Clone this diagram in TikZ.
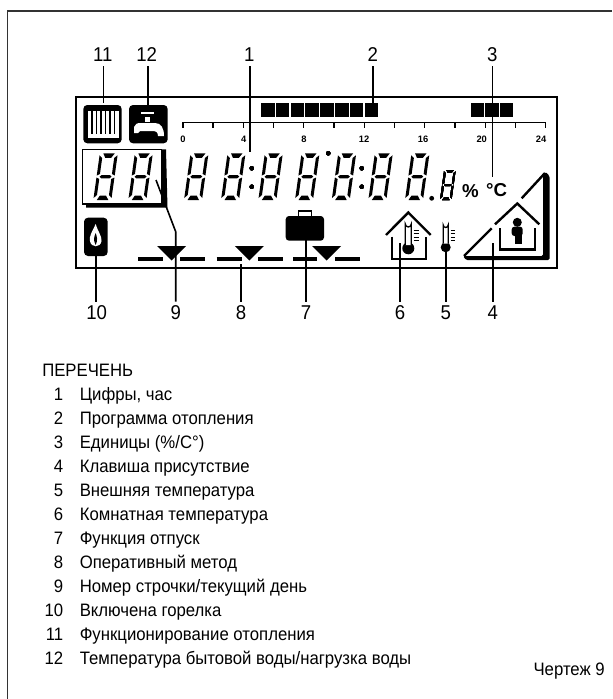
\documentclass[tikz,border=0pt]{standalone}
\usepackage{fontspec}
\setmainfont[FakeStretch=0.93]{Liberation Sans}
\newfontfamily\widefont{Liberation Sans}

\tikzset{
    bignum/.style={inner sep=3pt,font=\fontsize{15}{15}\selectfont},
    listtext/.style={inner sep=0pt,font=\fontsize{13.5}{13.5}\selectfont},
    hournum/.style={inner sep=0pt,font=\widefont\bfseries\fontsize{7}{7}\selectfont},
    unitmark/.style={inner sep=0pt,font=\widefont\bfseries\fontsize{14}{14}\selectfont},
    leader/.style={line width=1.2pt},
    icon/.style={line width=1.8pt},
}

% one seven segment digit, #1 #2 = lower left corner, #3 = scale
\newcommand{\lcddigit}[3]{
    \begin{scope}[shift={(#1,#2)},scale=#3,xslant=-0.14]
        \fill (3.5,0) -- (15,0) -- (12,-4.5) -- (6,-4.5) -- cycle;
        \fill (3.5,-46.7) -- (15,-46.7) -- (12,-42.2) -- (6,-42.2) -- cycle;
        \fill (3,-23.3) -- (5,-25) -- (13,-25) -- (15,-23.3) -- (13,-21.6) -- (5,-21.6) -- cycle;
        \fill (0,-2) -- (0,-22.5) -- (3,-21) -- (3,-5) -- cycle;
        \fill (0,-24.5) -- (0,-44.7) -- (3,-42) -- (3,-26) -- cycle;
        \fill (18,-2) -- (18,-22.5) -- (15,-21) -- (15,-5) -- cycle;
        \fill (18,-24.5) -- (18,-44.7) -- (15,-42) -- (15,-26) -- cycle;
    \end{scope}
}

\begin{document}
\begin{tikzpicture}[x=0.75pt,y=0.75pt,yscale=-1,xscale=1]
    \useasboundingbox (0,0) rectangle (612,699);

    % Page frame, open at right and bottom
    \draw[line width=1.2pt,black!80] (612,11) -- (7.5,11) -- (7.5,699);
    % Display
    \draw[line width=1.5pt] (75.7,97) rectangle (556.7,268);

    % Heating icon
    \fill[rounded corners=3pt] (83.3,105) rectangle (121.7,143.3);
    \fill[white] (88,111) rectangle (119,138);
    \foreach \x in {92,96.5,101,105.5,110,114.5}
        \draw[line width=1.3pt] (\x,111) -- (\x,134);
    % Tap icon
    \fill[rounded corners=3pt] (129,105) rectangle (167.7,143.3);
    \fill[white] (141,111.5) rectangle (153.5,114);
    \fill[white] (145,117) rectangle (150,122);
    \fill[white] (134,133) -- (134,127) .. controls (135,124) and (137,123) .. (141,123) -- (155,123)
        .. controls (161,123) and (164,128) .. (164,136) -- (158,136)
        .. controls (158,132) and (156,131) .. (152,131) -- (140,131) -- (138,133) -- cycle;

    % Program bars
    \foreach \i in {0,...,7}
        \fill (261+14.8*\i,103.3) rectangle +(13.6,14);
    \foreach \i in {0,1,2}
        \fill (471+14.3*\i,103.3) rectangle +(13.2,14);
    % Hour scale
    \draw[line width=1.1pt] (182.7,122.3) -- (545.7,122.3);
    \foreach \i in {0,...,12}
        \draw[line width=1pt] (182.9+30.23*\i,122.3) -- +(0,5.5);
    \foreach \h/\x in {0/183,4/243.7,8/304,12/364,16/423,20/481.7,24/541}
        \node[hournum] (hour\h) at (\x,139) {\h};

    % Line number box
    \fill (102,149.3) -- (166,149.3) -- (167.5,207.5) -- (86,207.5) -- (86,200) -- cycle;
    \draw[line width=1pt,fill=white] (82.7,149.3) rectangle (161.7,204);
    \lcddigit{93.3}{200}{1}
    \lcddigit{128.3}{200}{1}

    % Main digits
    \foreach \x in {184,221,258.3,295,331.7,368.3,405}
        \lcddigit{\x}{200}{1}
    \lcddigit{440}{200}{0.64}
    \foreach \x in {251.7,361.7} {
        \fill (\x,168.3) circle (2.2);
        \fill (\x,186.7) circle (2.2);
    }
    \fill (328.3,153.3) circle (2.2);
    \fill (431.7,198.3) circle (2.4);
    % Text Node
    \node[unitmark] (percent) at (470.3,191) {\%};
    \node[unitmark] (degrees) at (496.7,190.5) {°C};

    % Flame
    \fill[rounded corners=3pt] (84,217.7) rectangle (107.7,256);
    \fill[white] (95.7,224) .. controls (92,232) and (89,236) .. (90,241) .. controls (91,248) and (100.5,248) .. (101.5,241) .. controls (102,236) and (98,232) .. (95.7,224);
    \fill (95.7,233) .. controls (94,237) and (93,240) .. (95.7,245) .. controls (98,240) and (97,237) .. (95.7,233);

    % Briefcase
    \fill[rounded corners=2.5pt] (285.7,216) rectangle (324,240.7);
    \draw[line width=1.2pt] (298.5,216) -- (298.5,211) -- (311.5,211) -- (311.5,216);

    % Mode dashes and markers
    \foreach \a/\b in {138.3/163.3,180/205,216.7/241.7,258.3/283.3,293.3/316.7,335/360}
        \draw[line width=3pt] (\a,259) -- (\b,259);
    \foreach \x in {171.7,249.3,326.7}
        \fill (\x-14.5,246) -- (\x+14.5,246) -- (\x,260.5) -- cycle;

    % Room temperature
    \draw[icon] (386,235) -- (408.3,212.5) -- (430.7,235);
    \draw[icon] (391.7,236.7) -- (391.7,259) -- (426,259) -- (426,236.7);
    \fill (408.3,248.3) circle (6);
    \draw[line width=1pt,fill=white] (405.3,245) -- (405.3,224) arc (180:0:3) -- (411.3,245);
    \foreach \y in {230,233.5,237,240.5}
        \draw[line width=.7pt] (413.5,\y) -- (418.5,\y);

    % Outside temperature
    \fill (445.7,247.3) circle (5);
    \draw[line width=1pt,fill=white] (443.2,243.5) -- (443.2,225) arc (180:0:2.5) -- (448.2,243.5);
    \foreach \y in {230,233.5,237,240.5}
        \draw[line width=.7pt] (450.5,\y) -- (454.5,\y);

    % Presence key
    \draw[icon] (464,256) -- (491.7,228.3);
    \draw[icon] (521.7,198.3) -- (545,173);
    \fill[rounded corners=1pt] (545.5,172) -- (549.5,176) -- (549.5,260) -- (466,260) -- (463,256) -- (543,256) -- (543,175) -- cycle;
    \draw[icon] (495,224.3) -- (517.3,203.5) -- (539.3,224.3);
    \draw[icon] (500,228) -- (500,249.3) -- (535,249.3) -- (535,228);
    \fill (517.3,222.3) circle (4.5);
    \fill[rounded corners=2pt] (511.7,226.7) rectangle (522.7,236);
    \fill (514.5,234) rectangle (521.5,244);

    % Top labels
    \foreach \n/\x in {11/102.7,12/146.7,1/249.3,2/372.7,3/492.3}
        \node[bignum] (n\n) at (\x,55) {\n};
    \coordinate (c11) at (103.5,103);
    \coordinate (c12) at (148,105);
    \coordinate (c1) at (250,151.7);
    \coordinate (c2) at (373,105);
    \coordinate (c3) at (492.3,176.7);
    \foreach \n in {11,12,1,2,3}
        \draw[leader] (n\n.south -| c\n) -- (c\n);

    % Bottom labels
    \foreach \n/\x in {10/96.7,9/175.7,8/241,7/306,6/400,5/445.7,4/492.7}
        \node[bignum] (n\n) at (\x,313) {\n};
    \coordinate (c10) at (96,248);
    \coordinate (c9) at (175.7,231.7);
    \coordinate (d9) at (156,180);
    \coordinate (c8) at (241,264);
    \coordinate (c7) at (306,240);
    \coordinate (c6) at (400,243);
    \coordinate (c5) at (445.7,252);
    \coordinate (c4) at (492.7,243);
    \foreach \n in {10,8,7,6,5,4}
        \draw[leader] (n\n.north -| c\n) -- (c\n);
    \draw[leader] (n9.north -| c9) -- (c9) -- (d9);

    % Legend
    \node[listtext,anchor=base west] (title) at (42,376) {ПЕРЕЧЕНЬ};
    \foreach \n/\t in {1/{Цифры, час},2/{Программа отопления},3/{Единицы (\%/C°)},4/{Клавиша присутствие},
        5/{Внешняя температура},6/{Комнатная температура},7/{Функция отпуск},8/{Оперативный метод},
        9/{Номер строчки/текущий день},10/{Включена горелка},11/{Функционирование отопления},
        12/{Температура бытовой воды/нагрузка воды}} {
        \node[listtext,anchor=base east] (num\n) at (63.5,376+24*\n) {\n};
        \node[listtext,anchor=base west] (item\n) at (79.5,376+24*\n) {\t};
    }
    % Text Node
    \node[listtext,anchor=base east] (caption) at (605,675) {Чертеж 9};
\end{tikzpicture}
\end{document}
